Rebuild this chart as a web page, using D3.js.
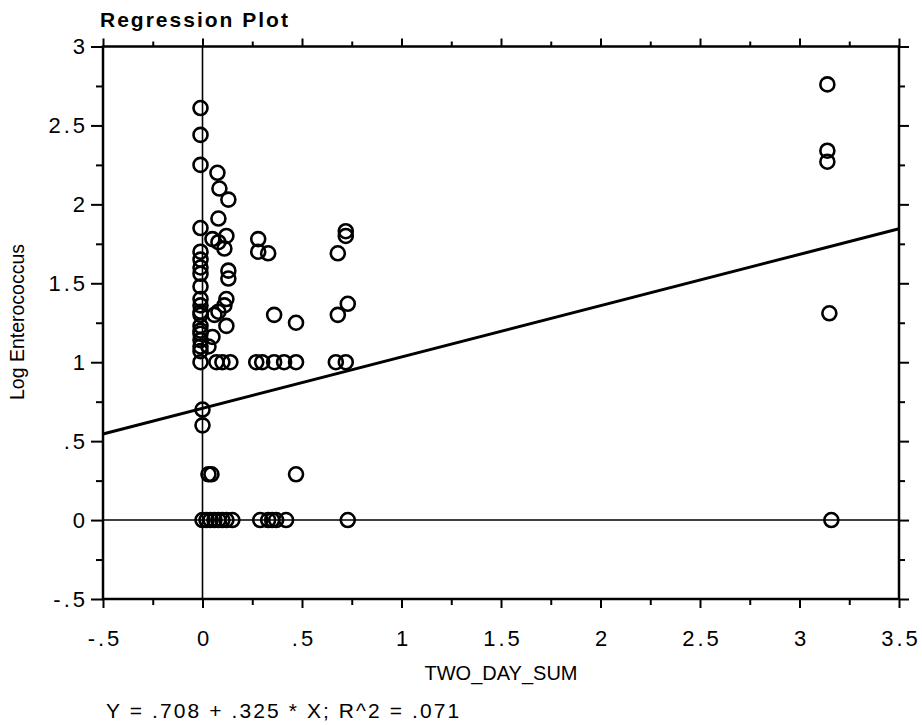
<!DOCTYPE html>
<html><head><meta charset="utf-8">
<script src="https://cdn.jsdelivr.net/npm/d3@7"></script>
<style>body{margin:0;background:#fff}svg{display:block}</style>
</head><body>
<script>
const xTicks = [-0.5, 0, 0.5, 1, 1.5, 2, 2.5, 3, 3.5];
const yTicks = [-0.5, 0, 0.5, 1, 1.5, 2, 2.5, 3];
const xMinor = [-0.25, 0.25, 0.75, 1.25, 1.75, 2.25, 2.75, 3.25];
const yMinor = [-0.25, 0.25, 0.75, 1.25, 1.75, 2.25, 2.75];
const intercept = 0.708, slope = 0.325;
const title = "Regression Plot";
const xTitle = "TWO_DAY_SUM";
const yTitle = "Log Enterococcus";
const footnote = "Y = .708 + .325 * X; R^2 = .071";

const xVals = [
 -0.01,-0.01,-0.01,-0.01,-0.01,-0.01,-0.01,-0.01,-0.01,-0.01,-0.01,-0.01,-0.01,-0.01,-0.01,-0.01,-0.01,-0.01,-0.01,-0.01,0.0,0.0,0.0,
 0.075,0.085,0.13,0.08,0.05,0.08,0.12,0.11,0.13,0.13,0.12,0.11,0.08,0.06,0.12,0.05,0.03,0.07,0.10,0.14,0.03,0.045,
 0.02,0.04,0.06,0.08,0.10,0.12,0.15,
 0.28,0.28,0.33,0.72,0.72,0.68,0.36,0.47,0.68,0.73,
 0.27,0.30,0.36,0.41,0.47,0.67,0.72,0.47,
 0.29,0.33,0.35,0.37,0.42,0.73,
 3.14,3.14,3.14,3.15,3.16
];
const yVals = [
 2.61,2.44,2.25,1.85,1.70,1.65,1.60,1.56,1.48,1.40,1.36,1.32,1.30,1.23,1.20,1.18,1.14,1.10,1.07,1.00,0.70,0.60,0,
 2.20,2.10,2.03,1.91,1.78,1.76,1.80,1.72,1.58,1.53,1.40,1.36,1.32,1.30,1.23,1.16,1.10,1.00,1.00,1.00,0.29,0.29,
 0,0,0,0,0,0,0,
 1.78,1.70,1.69,1.83,1.80,1.69,1.30,1.25,1.30,1.37,
 1.00,1.00,1.00,1.00,1.00,1.00,1.00,0.29,
 0,0,0,0,0,0,
 2.76,2.34,2.27,1.31,0
];

const W = 922, H = 725;
const L = 103, R = 899, T = 46.5, B = 599;
const svg = d3.select("body").append("svg").attr("width", W).attr("height", H)
  .style("font-family", "'Liberation Sans', Arial, sans-serif");

const x = d3.scaleLinear().domain([-0.5, 3.5]).range([L, R]);
const y = d3.scaleLinear().domain([-0.5, 3]).range([B, T]);

const fmt = v => {
  if (v === 0) return "0";
  let s = String(Math.abs(v));
  if (s.startsWith("0.")) s = s.slice(1);
  return (v < 0 ? "-" : "") + s;
};

function styleAxis(g) {
  g.select(".domain").remove();
  g.selectAll(".tick line").attr("stroke", "#000").attr("stroke-width", 2);
  g.selectAll(".tick text").attr("fill", "#000").style("font-size", "22px").style("letter-spacing", "3px");
}

svg.append("g").attr("transform", `translate(0,${B})`)
  .call(d3.axisBottom(x).tickValues(xTicks).tickFormat(fmt).tickSize(9).tickPadding(22))
  .call(styleAxis)
  .call(g => g.selectAll(".tick text").attr("dx", "1.5px"));
svg.append("g").attr("transform", `translate(0,${B})`)
  .call(d3.axisBottom(x).tickValues(xMinor).tickFormat("").tickSize(6)).call(styleAxis);
svg.append("g").attr("transform", `translate(0,${T})`)
  .call(d3.axisTop(x).tickValues(xTicks).tickFormat("").tickSize(8)).call(styleAxis);
svg.append("g").attr("transform", `translate(0,${T})`)
  .call(d3.axisTop(x).tickValues(xMinor).tickFormat("").tickSize(5)).call(styleAxis);
svg.append("g").attr("transform", `translate(${L},0)`)
  .call(d3.axisLeft(y).tickValues(yTicks).tickFormat(fmt).tickSize(12).tickPadding(3))
  .call(styleAxis);
svg.append("g").attr("transform", `translate(${L},0)`)
  .call(d3.axisLeft(y).tickValues(yMinor).tickFormat("").tickSize(7)).call(styleAxis);
svg.append("g").attr("transform", `translate(${R},0)`)
  .call(d3.axisRight(y).tickValues(yTicks).tickFormat("").tickSize(10)).call(styleAxis);
svg.append("g").attr("transform", `translate(${R},0)`)
  .call(d3.axisRight(y).tickValues(yMinor).tickFormat("").tickSize(6)).call(styleAxis);

svg.append("rect").attr("x", L).attr("y", T).attr("width", R - L).attr("height", B - T)
  .attr("fill", "none").attr("stroke", "#000").attr("stroke-width", 2.5);

svg.append("line").attr("x1", x(0)).attr("x2", x(0)).attr("y1", T).attr("y2", B)
  .attr("stroke", "#000").attr("stroke-width", 1.6);
svg.append("line").attr("x1", L).attr("x2", R).attr("y1", y(0)).attr("y2", y(0))
  .attr("stroke", "#000").attr("stroke-width", 1.6);

svg.append("line")
  .attr("x1", x(-0.5)).attr("y1", y(intercept + slope * -0.5))
  .attr("x2", x(3.5)).attr("y2", y(intercept + slope * 3.5))
  .attr("stroke", "#000").attr("stroke-width", 3);

svg.append("g").selectAll("circle").data(xVals.map((v, i) => [v, yVals[i]])).join("circle")
  .attr("cx", d => x(d[0])).attr("cy", d => y(d[1])).attr("r", 7)
  .attr("fill", "none").attr("stroke", "#000").attr("stroke-width", 2.6);

svg.append("text").attr("x", 100).attr("y", 27).text(title).attr("fill", "#000")
  .style("font-size", "21px").style("font-weight", "bold").style("letter-spacing", "2px");
svg.append("text").attr("x", (L + R) / 2).attr("y", 680).attr("text-anchor", "middle").attr("fill", "#000")
  .text(xTitle).style("font-size", "20px");
svg.append("text").attr("transform", `translate(24,322) rotate(-90)`).attr("fill", "#000")
  .attr("text-anchor", "middle").text(yTitle).style("font-size", "19.5px");
svg.append("text").attr("x", 106).attr("y", 718).text(footnote).attr("fill", "#000")
  .style("font-size", "21px").style("letter-spacing", "2.1px");
</script>
</body></html>
